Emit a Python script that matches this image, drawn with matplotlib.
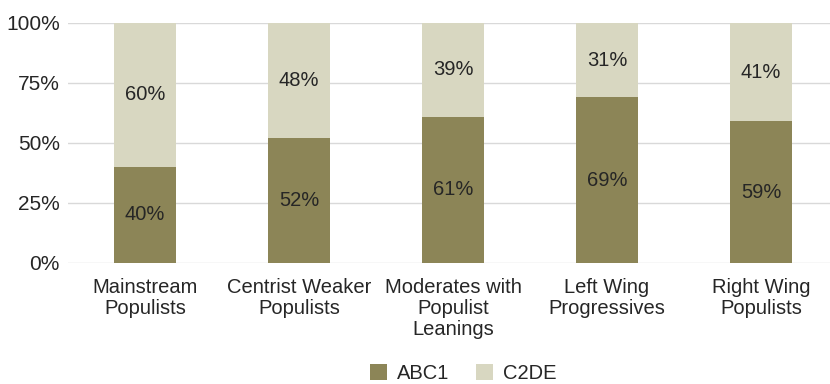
import matplotlib
matplotlib.use("Agg")
import matplotlib.pyplot as plt
from matplotlib.ticker import FixedLocator

plt.rcParams['font.family'] = ['Liberation Sans', 'DejaVu Sans']

categories = ["Mainstream\nPopulists", "Centrist Weaker\nPopulists",
              "Moderates with\nPopulist\nLeanings", "Left Wing\nProgressives",
              "Right Wing\nPopulists"]
abc1 = [40, 52, 61, 69, 59]
c2de = [60, 48, 39, 31, 41]
yticks = [0, 25, 50, 75, 100]

col_abc1 = "#8C8557"
col_c2de = "#D8D7C1"
text_col = "#262626"
fs = 14.5

W, H = 830, 384
fig = plt.figure(figsize=(W / 100, H / 100), dpi=100)
ax = fig.add_axes([68 / W, (H - 263) / H, (830 - 68) / W, (263 - 23) / H])

x = list(range(len(categories)))
width = 0.4
b1 = ax.bar(x, abc1, width, color=col_abc1, label="ABC1", zorder=2)
b2 = ax.bar(x, c2de, width, bottom=abc1, color=col_c2de, label="C2DE", zorder=2)

for xi, a, c in zip(x, abc1, c2de):
    ax.text(xi, a / 2, f"{a}%", ha="center", va="center", fontsize=fs, color=text_col, zorder=3)
    ax.text(xi, a + c / 2, f"{c}%", ha="center", va="center", fontsize=fs, color=text_col, zorder=3)

ax.set_xlim(-0.5, 4.448)
ax.set_ylim(0, 100)
ax.yaxis.set_major_locator(FixedLocator(yticks))
ax.set_yticklabels([f"{t}%" for t in yticks])
ax.set_xticks(x)
ax.set_xticklabels(categories, fontsize=fs, color=text_col, linespacing=1.12)
ax.tick_params(axis="y", labelsize=15, labelcolor=text_col, length=0, pad=6)
ax.tick_params(axis="x", length=0, pad=11)
ax.grid(axis="y", color="#D9D9D9", linewidth=1, zorder=0)
for s in ax.spines.values():
    s.set_visible(False)

fig.legend(handles=[b1, b2], loc="lower center", bbox_to_anchor=(0.558, -0.045), ncol=2,
           frameon=False, fontsize=fs, handlelength=0.85, handleheight=0.85,
           columnspacing=1.3, handletextpad=0.5, labelcolor=text_col)

fig.savefig("out.png", dpi=100)
